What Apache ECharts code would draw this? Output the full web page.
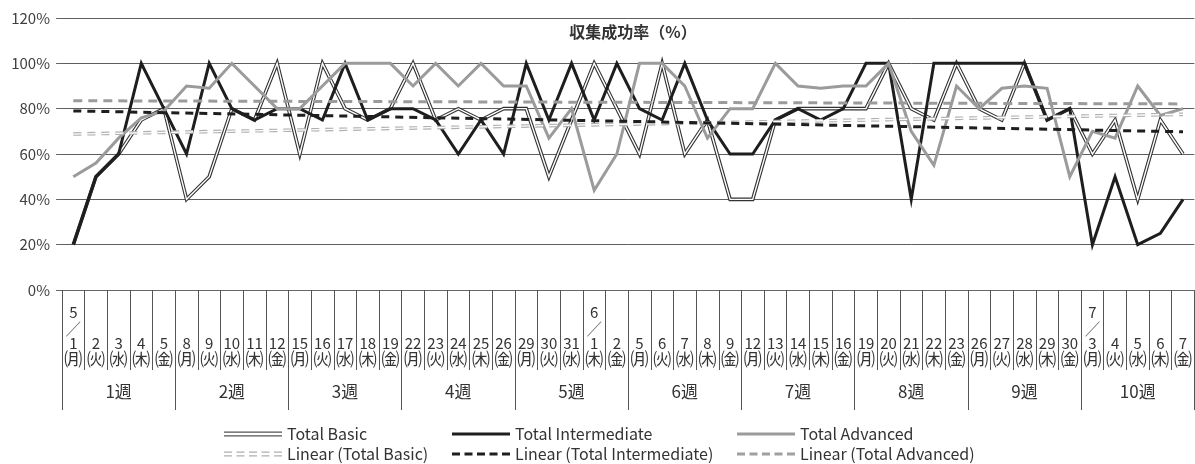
<!DOCTYPE html>
<html>
<head>
<meta charset="utf-8">
<script src="https://cdn.jsdelivr.net/npm/echarts@6/dist/echarts.min.js"></script>
<style>
  html, body { margin: 0; padding: 0; background: #fff; }
  #chart { width: 1195px; height: 464px; }
</style>
</head>
<body>
<div id="chart"></div>
<script>
// Business days (month/day(weekday)) covered by the ten survey weeks
const dates = [
  '5/1(月)', '5/2(火)', '5/3(水)', '5/4(木)', '5/5(金)',
  '5/8(月)', '5/9(火)', '5/10(水)', '5/11(木)', '5/12(金)',
  '5/15(月)', '5/16(火)', '5/17(水)', '5/18(木)', '5/19(金)',
  '5/22(月)', '5/23(火)', '5/24(水)', '5/25(木)', '5/26(金)',
  '5/29(月)', '5/30(火)', '5/31(水)', '6/1(木)', '6/2(金)',
  '6/5(月)', '6/6(火)', '6/7(水)', '6/8(木)', '6/9(金)',
  '6/12(月)', '6/13(火)', '6/14(水)', '6/15(木)', '6/16(金)',
  '6/19(月)', '6/20(火)', '6/21(水)', '6/22(木)', '6/23(金)',
  '6/26(月)', '6/27(火)', '6/28(水)', '6/29(木)', '6/30(金)',
  '7/3(月)', '7/4(火)', '7/5(水)', '7/6(木)', '7/7(金)'
];
const weeks = ['1週', '2週', '3週', '4週', '5週', '6週', '7週', '8週', '9週', '10週'];
const yTicks = [0, 20, 40, 60, 80, 100, 120];

// Collection success rate (%) per day
const totalBasic = [
  20, 50, 60, 75, 80, 40, 50, 80, 75, 100,
  60, 100, 80, 75, 80, 100, 75, 80, 75, 80,
  80, 50, 75, 100, 80, 60, 100, 60, 75, 40,
  40, 75, 80, 80, 80, 80, 100, 80, 75, 100,
  80, 75, 100, 75, 80, 60, 75, 40, 75, 60
];
const totalIntermediate = [
  20, 50, 60, 100, 80, 60, 100, 80, 75, 80,
  80, 75, 100, 75, 80, 80, 75, 60, 75, 60,
  100, 75, 100, 75, 100, 80, 75, 100, 75, 60,
  60, 75, 80, 75, 80, 100, 100, 40, 100, 100,
  100, 100, 100, 75, 80, 20, 50, 20, 25, 40
];
const totalAdvanced = [
  50, 56, 67, 76, 79, 90, 89, 100, 90, 80,
  80, 90, 100, 100, 100, 90, 100, 90, 100, 90,
  90, 67, 80, 44, 60, 100, 100, 90, 67, 80,
  80, 100, 90, 89, 90, 90, 100, 70, 55, 90,
  80, 89, 90, 89, 50, 70, 67, 90, 77, 80
];

// Linear trend lines: value at the first and at the last day
const trendBasic = [68.8, 77.5];
const trendIntermediate = [79.0, 69.8];
const trendAdvanced = [83.5, 82.1];

const FONT = '"Noto Sans CJK JP", "Noto Sans", sans-serif';
const dowMark = { '月': '㈪', '火': '㈫', '水': '㈬', '木': '㈭', '金': '㈮' };

function parseDate(s) {
  const m = s.match(/^(\d+)\/(\d+)\((.)\)$/);
  return { month: m[1], day: m[2], dow: m[3] };
}

// Day label: month shown above the first day of each month
function dayLabel(value, idx) {
  const cur = parseDate(value);
  const prev = idx > 0 ? parseDate(dates[idx - 1]) : null;
  const head = (!prev || prev.month !== cur.month) ? '{m|' + cur.month + '}\n{s|╱}\n' : '';
  return head + '{d|' + cur.day + '}\n{w|' + dowMark[cur.dow] + '}';
}

function trendData(pair) {
  return [[dates[0], pair[0]], [dates[dates.length - 1], pair[1]]];
}

function line(name, data, color, width, z, dash) {
  return {
    name: name,
    type: 'line',
    data: data,
    z: z,
    symbol: 'none',
    showSymbol: false,
    silent: true,
    animation: false,
    lineStyle: { color: color, width: width, type: dash || 'solid', join: 'miter', cap: 'butt', miterLimit: 10 },
    itemStyle: { color: color },
    emphasis: { disabled: true }
  };
}

// Legend icons (drawn as filled paths)
const iconDouble = 'path://M0,0H58V1.2H0Z M0,3.8H58V5H0Z';
const iconDash = 'path://M0,0h8v3h-8z M12.5,0h8v3h-8z M25,0h8v3h-8z M37.5,0h8v3h-8z M50,0h8v3h-8z';
const iconDoubleDash = 'path://M0,0h8v1.2h-8z M0,3.8h8v1.2h-8z M12.5,0h8v1.2h-8z M12.5,3.8h8v1.2h-8z ' +
  'M25,0h8v1.2h-8z M25,3.8h8v1.2h-8z M37.5,0h8v1.2h-8z M37.5,3.8h8v1.2h-8z M50,0h8v1.2h-8z M50,3.8h8v1.2h-8z';

function legendItem(name, icon, color, h, left, top) {
  return {
    left: left, top: top, padding: 0,
    itemWidth: 58, itemHeight: h,
    symbolKeepAspect: false,
    selectedMode: false,
    textStyle: { fontFamily: FONT, fontSize: 16, color: '#333' },
    data: [{ name: name, icon: icon, itemStyle: { color: color, borderWidth: 0, borderColor: 'transparent' } }]
  };
}

const chart = echarts.init(document.getElementById('chart'), null, { renderer: 'canvas' });

chart.setOption({
  animation: false,
  backgroundColor: '#fff',
  title: {
    text: '収集成功率（%）',
    left: 628, top: 19, textAlign: 'center',
    textStyle: { fontFamily: FONT, fontSize: 16, fontWeight: 'bold', color: '#333' }
  },
  grid: { left: 62, right: 0, top: 18, bottom: 174, containLabel: false },
  legend: [
    legendItem('Total Basic', iconDouble, '#555', 5, 224, 426),
    legendItem('Total Intermediate', 'rect', '#1e1e1e', 3, 452, 426),
    legendItem('Total Advanced', 'rect', '#9b9b9b', 3, 737, 426),
    legendItem('Linear (Total Basic)', iconDoubleDash, '#b0b0b0', 5, 224, 446),
    legendItem('Linear (Total Intermediate)', iconDash, '#1e1e1e', 3, 452, 446),
    legendItem('Linear (Total Advanced)', iconDash, '#a0a0a0', 3, 737, 446)
  ],
  xAxis: [
    {
      type: 'category',
      data: dates,
      position: 'bottom',
      boundaryGap: true,
      axisLine: { show: true, lineStyle: { color: '#666', width: 1 } },
      axisTick: { show: true, interval: 0, length: 80, lineStyle: { color: '#555', width: 1 } },
      axisLabel: {
        interval: 0,
        margin: 77,
        verticalAlign: 'bottom',
        align: 'center',
        color: '#333',
        fontFamily: FONT,
        formatter: dayLabel,
        rich: {
          m: { fontFamily: FONT, fontSize: 15, lineHeight: 17, color: '#333', align: 'center' },
          s: { fontFamily: FONT, fontSize: 14, lineHeight: 15, color: '#555', align: 'center' },
          d: { fontFamily: FONT, fontSize: 15, lineHeight: 15, color: '#333', align: 'center' },
          w: { fontFamily: FONT, fontSize: 18, lineHeight: 16, color: '#333', align: 'center' }
        }
      },
      splitLine: { show: false }
    },
    {
      type: 'category',
      data: weeks,
      position: 'bottom',
      offset: 0,
      boundaryGap: true,
      axisLine: { show: false },
      axisTick: { show: true, interval: 0, length: 120, lineStyle: { color: '#555', width: 1 } },
      axisLabel: {
        interval: 0,
        margin: 102,
        verticalAlign: 'middle',
        color: '#333',
        fontFamily: FONT,
        fontSize: 17,
        lineHeight: 20
      },
      splitLine: { show: false }
    }
  ],
  yAxis: {
    type: 'value',
    min: yTicks[0],
    max: yTicks[yTicks.length - 1],
    interval: 20,
    axisLine: { show: false },
    axisTick: { show: true, length: 6, lineStyle: { color: '#666' } },
    axisLabel: { formatter: '{value}%', fontFamily: FONT, fontSize: 15, color: '#404040', margin: 12 },
    splitLine: { show: true, lineStyle: { color: '#5e5e5e', width: 1 } }
  },
  series: [
    line('Total Basic', totalBasic, '#333', 3.6, 2),
    line('Total Basic', totalBasic, '#fff', 1.4, 3),
    line('Total Intermediate', totalIntermediate, '#1e1e1e', 3, 4),
    line('Total Advanced', totalAdvanced, '#9b9b9b', 3, 5),
    line('Linear (Total Basic)', trendData(trendBasic), '#b0b0b0', 3.6, 6, [8, 6]),
    line('Linear (Total Basic)', trendData(trendBasic), '#fff', 1.3, 7, [8, 6]),
    line('Linear (Total Intermediate)', trendData(trendIntermediate), '#1e1e1e', 3, 8, [8, 6]),
    line('Linear (Total Advanced)', trendData(trendAdvanced), '#9b9b9b', 3, 9, [9, 6])
  ]
});
</script>
</body>
</html>
